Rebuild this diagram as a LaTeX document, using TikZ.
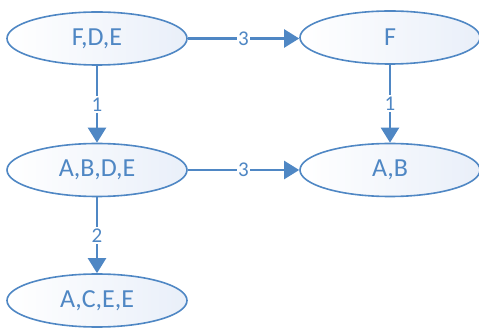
\documentclass[tikz,border=0pt]{standalone}
\usepackage{fontspec}
\setmainfont{Carlito}
\usetikzlibrary{shapes.geometric,arrows.meta}
\definecolor{edgeblue}{RGB}{79,135,196}
\definecolor{fillblue}{RGB}{233,239,249}
\begin{document}
\begin{tikzpicture}[x=1pt,y=-1pt,
  state/.style={ellipse, draw=edgeblue, line width=1.6pt,
    minimum width=180pt, minimum height=53pt, inner sep=0pt,
    left color=white, right color=fillblue,
    text=edgeblue, font=\fontsize{26}{29}\selectfont},
  link/.style={draw=edgeblue, line width=2.2pt,
    -{Triangle[length=15pt,width=18pt]}},
  weight/.style={fill=white, text=edgeblue, inner sep=1.5pt,
    font=\fontsize{21}{24}\selectfont}]
\useasboundingbox (0,0) rectangle (479,328);
\node[state] (fde)  at (97,38.5)  {F,D,E};
\node[state] (f)    at (390,37.5) {F};
\node[state] (abde) at (97,170)   {A,B,D,E};
\node[state] (ab)   at (390,170)  {A,B};
\node[state] (acee) at (97,300.5) {A,C,E,E};
\draw[link] (fde.east) -- node[weight] {3} (f.west |- fde.east);
\draw[link] (abde.east) -- node[weight] {3} (ab.west |- abde.east);
\draw[link] (fde.south) -- node[weight] {1} (abde.north);
\draw[link] (f.south) -- node[weight] {1} (ab.north);
\draw[link] (abde.south) -- node[weight] {2} (acee.north);
\end{tikzpicture}
\end{document}
